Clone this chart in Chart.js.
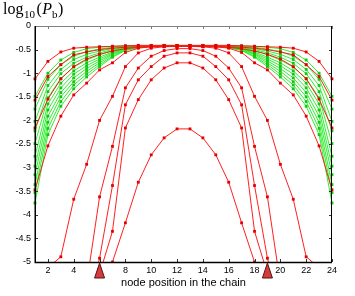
<!DOCTYPE html>
<html><head><meta charset="utf-8">
<script src="https://cdn.jsdelivr.net/npm/chart.js@4.4.0/dist/chart.umd.min.js"></script>
<style>html,body{margin:0;padding:0;background:#fff;}canvas{display:block}</style>
</head><body>
<canvas id="c" width="355" height="296"></canvas>
<script>
const nodes = [1,2,3,4,5,6,7,8,9,10,11,12,13,14,15,16,17,18,19,20,21,22,23,24];
const xTicks = [2,4,6,8,10,12,14,16,18,20,22,24];
const yTicks = [-5,-4.5,-4,-3.5,-3,-2.5,-2,-1.5,-1,-0.5,0];
const markerNodes = [6,19];
const xTitle = 'node position in the chain';

// red curves
const redA = [-1.12,-0.75,-0.55,-0.47,-0.45,-0.44,-0.43,-0.42,-0.41,-0.41,-0.41,-0.41,-0.41,-0.41,-0.41,-0.41,-0.42,-0.43,-0.44,-0.45,-0.47,-0.55,-0.75,-1.12];
const redB = [-1.57,-1.07,-0.82,-0.61,-0.55,-0.50,-0.47,-0.45,-0.44,-0.43,-0.42,-0.42,-0.42,-0.42,-0.43,-0.44,-0.45,-0.47,-0.50,-0.55,-0.61,-0.82,-1.07,-1.57];
const redC = [-2.16,-1.55,-1.12,-0.86,-0.70,-0.60,-0.53,-0.48,-0.45,-0.44,-0.43,-0.43,-0.43,-0.43,-0.44,-0.45,-0.48,-0.53,-0.60,-0.70,-0.86,-1.12,-1.55,-2.16];
const redD = [-3.47,-2.54,-1.91,-1.46,-1.21,-0.93,-0.78,-0.56,-0.47,-0.44,-0.43,-0.43,-0.43,-0.43,-0.44,-0.47,-0.56,-0.78,-0.93,-1.21,-1.46,-1.91,-2.54,-3.47];
const redE = [-5.40,-5.12,-4.89,-3.67,-2.93,-2.00,-1.49,-0.86,-0.57,-0.47,-0.44,-0.43,-0.43,-0.44,-0.47,-0.57,-0.86,-1.49,-2.00,-2.93,-3.67,-4.89,-5.12,-5.40];
const redF = [-7.00,-6.50,-6.00,-5.80,-5.46,-3.62,-2.55,-1.31,-0.89,-0.64,-0.52,-0.48,-0.48,-0.52,-0.64,-0.89,-1.31,-2.55,-3.62,-5.46,-5.80,-6.00,-6.50,-7.00];
const redG = [-8.00,-8.00,-7.50,-7.00,-6.00,-4.92,-3.38,-1.67,-1.14,-0.86,-0.64,-0.57,-0.57,-0.64,-0.86,-1.14,-1.67,-3.38,-4.92,-6.00,-7.00,-7.50,-8.00,-8.00];
const redH = [-8.00,-8.00,-8.00,-7.50,-7.00,-5.25,-4.35,-2.16,-1.56,-1.14,-0.89,-0.78,-0.78,-0.89,-1.14,-1.56,-2.16,-4.35,-5.25,-7.00,-7.50,-8.00,-8.00,-8.00];
const redI = [-9.00,-9.00,-9.00,-8.50,-8.00,-6.00,-5.00,-4.17,-3.31,-2.73,-2.37,-2.18,-2.18,-2.37,-2.73,-3.31,-4.17,-5.00,-6.00,-8.00,-8.50,-9.00,-9.00,-9.00];

// green curves
const green1  = [-1.49,-1.00,-0.72,-0.56,-0.48,-0.45,-0.43,-0.42,-0.42,-0.42,-0.42,-0.42,-0.42,-0.42,-0.42,-0.42,-0.42,-0.43,-0.45,-0.48,-0.56,-0.72,-1.00,-1.49];
const green2  = [-1.76,-1.13,-0.82,-0.64,-0.54,-0.49,-0.45,-0.43,-0.42,-0.42,-0.42,-0.42,-0.42,-0.42,-0.42,-0.42,-0.43,-0.45,-0.49,-0.54,-0.64,-0.82,-1.13,-1.76];
const green3  = [-2.02,-1.26,-0.92,-0.71,-0.60,-0.53,-0.48,-0.44,-0.42,-0.42,-0.42,-0.42,-0.42,-0.42,-0.42,-0.42,-0.44,-0.48,-0.53,-0.60,-0.71,-0.92,-1.26,-2.02];
const green4  = [-2.22,-1.39,-1.01,-0.79,-0.66,-0.57,-0.50,-0.45,-0.43,-0.42,-0.42,-0.42,-0.42,-0.42,-0.42,-0.43,-0.45,-0.50,-0.57,-0.66,-0.79,-1.01,-1.39,-2.22];
const green5  = [-2.49,-1.52,-1.11,-0.87,-0.72,-0.61,-0.52,-0.46,-0.43,-0.42,-0.42,-0.42,-0.42,-0.42,-0.42,-0.43,-0.46,-0.52,-0.61,-0.72,-0.87,-1.11,-1.52,-2.49];
const green6  = [-2.76,-1.65,-1.21,-0.95,-0.78,-0.66,-0.55,-0.47,-0.44,-0.42,-0.42,-0.42,-0.42,-0.42,-0.42,-0.44,-0.47,-0.55,-0.66,-0.78,-0.95,-1.21,-1.65,-2.76];
const green7  = [-2.97,-1.78,-1.31,-1.02,-0.84,-0.70,-0.57,-0.48,-0.44,-0.43,-0.42,-0.42,-0.42,-0.42,-0.43,-0.44,-0.48,-0.57,-0.70,-0.84,-1.02,-1.31,-1.78,-2.97];
const green8  = [-3.15,-1.91,-1.41,-1.10,-0.90,-0.74,-0.59,-0.49,-0.44,-0.43,-0.42,-0.42,-0.42,-0.42,-0.43,-0.44,-0.49,-0.59,-0.74,-0.90,-1.10,-1.41,-1.91,-3.15];
const green9  = [-3.36,-2.04,-1.50,-1.18,-0.96,-0.78,-0.61,-0.50,-0.45,-0.43,-0.42,-0.42,-0.42,-0.42,-0.43,-0.45,-0.50,-0.61,-0.78,-0.96,-1.18,-1.50,-2.04,-3.36];
const green10 = [-3.53,-2.17,-1.60,-1.25,-1.02,-0.82,-0.64,-0.51,-0.45,-0.43,-0.42,-0.42,-0.42,-0.42,-0.43,-0.45,-0.51,-0.64,-0.82,-1.02,-1.25,-1.60,-2.17,-3.53];
const green11 = [-3.75,-2.30,-1.70,-1.33,-1.08,-0.86,-0.66,-0.52,-0.46,-0.43,-0.42,-0.42,-0.42,-0.42,-0.43,-0.46,-0.52,-0.66,-0.86,-1.08,-1.33,-1.70,-2.30,-3.75];

const reds = [redA, redB, redC, redD, redE, redF, redG, redH, redI];
const greens = [green1, green2, green3, green4, green5, green6, green7, green8, green9, green10, green11];

function mk(arr, line, pt) {
  return {
    data: nodes.map((n, i) => ({x: n, y: arr[i]})),
    borderColor: line, borderWidth: 1, backgroundColor: pt,
    pointStyle: 'rect', pointRadius: 2, pointBorderWidth: 0,
    pointBackgroundColor: pt, tension: 0, fill: false,
    clip: {left: 3, top: 3, right: 3, bottom: 0}
  };
}
const datasets = [
  ...reds.map(a => mk(a, 'rgba(255,20,20,0.95)', '#e80000')),
  ...greens.map(a => mk(a, 'rgba(40,235,40,0.95)', '#10c810'))
];

const framePlugin = {
  id: 'framePlugin',
  afterDraw(chart) {
    const {ctx, chartArea: a, scales: {x, y}} = chart;
    ctx.save();
    // ticks inside
    ctx.lineWidth = 1;
    xTicks.forEach(v => {
      const px = Math.round(x.getPixelForValue(v)) + 0.5;
      ctx.strokeStyle = '#333';
      ctx.beginPath(); ctx.moveTo(px, a.bottom); ctx.lineTo(px, a.bottom - 3); ctx.stroke();
      ctx.strokeStyle = '#777';
      ctx.beginPath(); ctx.moveTo(px, a.top); ctx.lineTo(px, a.top + 3); ctx.stroke();
    });
    yTicks.forEach(v => {
      const py = Math.round(y.getPixelForValue(v)) + 0.5;
      ctx.strokeStyle = '#333';
      ctx.beginPath(); ctx.moveTo(a.left, py); ctx.lineTo(a.left + 3, py); ctx.stroke();
      ctx.beginPath(); ctx.moveTo(a.right, py); ctx.lineTo(a.right - 3, py); ctx.stroke();
    });
    // frame
    ctx.strokeStyle = '#808080'; ctx.lineWidth = 1;
    ctx.beginPath(); ctx.moveTo(a.left, a.top + 0.5); ctx.lineTo(a.right, a.top + 0.5); ctx.stroke();
    ctx.strokeStyle = '#000'; ctx.lineWidth = 1;
    ctx.beginPath(); ctx.moveTo(a.right - 0.5, a.top); ctx.lineTo(a.right - 0.5, a.bottom); ctx.stroke();
    ctx.lineWidth = 1.5;
    ctx.beginPath(); ctx.moveTo(a.left + 0.25, a.top); ctx.lineTo(a.left + 0.25, a.bottom + 0.5); ctx.lineTo(a.right, a.bottom + 0.5); ctx.stroke();
    // triangle markers
    markerNodes.forEach(n => {
      const px = x.getPixelForValue(n);
      ctx.beginPath();
      ctx.moveTo(px, a.bottom + 1);
      ctx.lineTo(px + 5, a.bottom + 16);
      ctx.lineTo(px - 5, a.bottom + 16);
      ctx.closePath();
      ctx.fillStyle = '#d23c3c'; ctx.fill();
      ctx.strokeStyle = '#5a1010'; ctx.lineWidth = 1; ctx.stroke();
    });
    // y-axis title log10(Pb)
    ctx.fillStyle = '#000';
    ctx.textBaseline = 'alphabetic';
    ctx.textAlign = 'left';
    const big = '16px "Liberation Serif"', small = '11px "Liberation Serif"';
    let tx = 3;
    const put = (t, f, yb, gap) => { ctx.font = f; ctx.fillText(t, tx, yb); tx += ctx.measureText(t).width + (gap || 0); };
    put('log', big, 14, 0.5);
    put('10', small, 18, 1.5);
    put('(', big, 14, 0.5);
    put('P', 'italic ' + big, 14, 0);
    put('b', small, 18, 0.5);
    put(')', big, 14, 0);
    ctx.restore();
  }
};

new Chart(document.getElementById('c'), {
  type: 'line',
  data: {datasets},
  options: {
    responsive: false, animation: false, devicePixelRatio: 1,
    layout: {padding: {top: 26, right: 23, left: 0, bottom: 0}},
    plugins: {legend: {display: false}, tooltip: {enabled: false}, title: {display: false}},
    scales: {
      x: {
        type: 'linear', min: 1, max: 24,
        afterBuildTicks: s => { s.ticks = xTicks.map(v => ({value: v})); },
        afterFit: s => { s.height = 34; },
        grid: {display: false, drawTicks: false}, border: {display: false},
        ticks: {autoSkip: false, maxRotation: 0, padding: 3, color: '#000',
          font: {family: 'Liberation Sans', size: 9}, callback: v => String(v)},
        title: {display: true, text: xTitle, color: '#000',
          font: {family: 'Liberation Sans', size: 11}, padding: {top: 0, bottom: 6}}
      },
      y: {
        type: 'linear', min: -5, max: 0,
        afterBuildTicks: s => { s.ticks = yTicks.map(v => ({value: v})); },
        afterFit: s => { s.width = 35; },
        grid: {display: false, drawTicks: false}, border: {display: false},
        ticks: {autoSkip: false, padding: 4, color: '#000',
          font: {family: 'Liberation Sans', size: 9}, callback: v => String(v)}
      }
    }
  },
  plugins: [framePlugin]
});
</script>
</body></html>
